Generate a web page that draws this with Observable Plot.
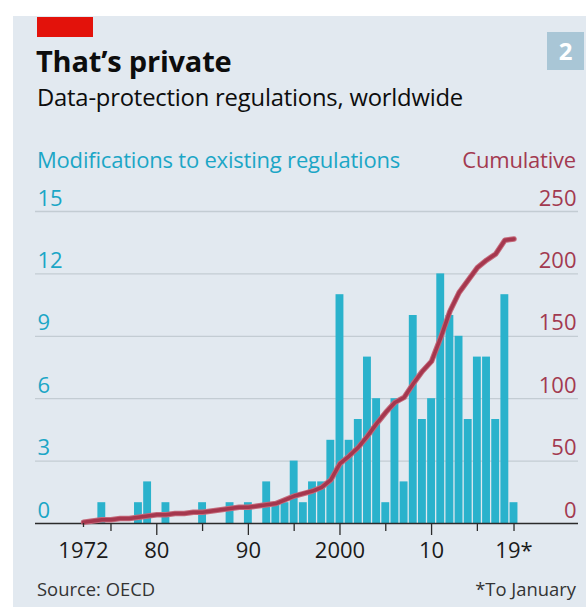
<!DOCTYPE html>
<html>
<head>
<meta charset="utf-8">
<script src="https://cdn.jsdelivr.net/npm/d3@7"></script>
<script src="https://cdn.jsdelivr.net/npm/@observablehq/plot@0.6"></script>
<style>
  html, body { margin: 0; padding: 0; background: #ffffff; }
  #page { position: relative; width: 586px; height: 607px; overflow: hidden; font-family: "Open Sans", sans-serif; }
  #panel { position: absolute; left: 13px; top: 16px; width: 573px; height: 591px; background: #e2e9f0; }
  .abs { position: absolute; line-height: 1; white-space: nowrap; }
  #redbar { left: 37px; top: 17px; width: 56px; height: 20px; background: #e3120b; }
  #title { left: 36px; top: 46px; font-size: 29px; font-weight: 700; color: #0d0d0d; letter-spacing: -0.2px; }
  #subtitle { left: 37px; top: 86px; font-size: 23.8px; color: #0d0d0d; letter-spacing: -0.2px; }
  #num { left: 547px; top: 32px; width: 37px; height: 38px; background: #a9c6d6; color: #fff; font-size: 24px; font-weight: 700; text-align: center; line-height: 38px; }
  #ltitle { left: 37px; top: 148px; font-size: 22px; color: #1ba6c6; letter-spacing: -0.2px; }
  #rtitle { right: 10px; top: 148px; font-size: 22px; color: #a23a50; letter-spacing: -0.2px; }
  #chart { position: absolute; left: 0; top: 180px; }
  #source { left: 37px; top: 580px; font-size: 18.4px; color: #333; }
  #note { right: 10px; top: 580px; font-size: 18.4px; color: #333; }
</style>
</head>
<body>
<div id="page">
  <div id="panel"></div>
  <div class="abs" id="redbar"></div>
  <div class="abs" id="title">That’s private</div>
  <div class="abs" id="subtitle">Data-protection regulations, worldwide</div>
  <div class="abs" id="num">2</div>
  <div class="abs" id="ltitle">Modifications to existing regulations</div>
  <div class="abs" id="rtitle">Cumulative</div>
  <div id="chart"></div>
  <div class="abs" id="source">Source: OECD</div>
  <div class="abs" id="note">*To January</div>
</div>
<script>
// ---- data ----
const years = d3.range(1972, 2020);
const modifications = [
  0, 0, 1, 0, 0, 0, 1, 2, 0, 1,   // 1972-1981
  0, 0, 0, 1, 0, 0, 1, 0, 1, 0,   // 1982-1991
  2, 1, 1, 3, 1, 2, 2, 4, 11, 4,  // 1992-2001
  5, 8, 6, 1, 6, 2, 10, 5, 6, 12, // 2002-2011
  10, 9, 5, 8, 8, 5, 11, 1        // 2012-2019
];
const cumulative = [
  1, 2, 3, 3, 4, 4, 5, 6, 7, 7,        // 1972-1981
  8, 8, 9, 9, 10, 11, 12, 13, 13, 14,  // 1982-1991
  15, 16, 19, 22, 24, 26, 29, 35, 48, 54, // 1992-2001
  61, 70, 80, 89, 97, 101, 112, 122, 130, 149, // 2002-2011
  170, 185, 195, 205, 211, 216, 227, 228 // 2012-2019
];
const leftTicks = [0, 3, 6, 9, 12, 15];
const rightTicks = [0, 50, 100, 150, 200, 250];
const majorYearTicks = [1980, 1990, 2000, 2010];
const majorYearLabels = ["80", "90", "2000", "10"];
const minorYearTicks = [1975, 1985, 1995, 2005, 2015];
const firstYear = 1972, firstYearLabel = "1972";
const lastYear = 2019, lastYearLabel = "19*";

const rows = years.map((y, i) => ({year: y, mod: modifications[i], cum: cumulative[i]}));
const ratio = 15 / 250; // right axis (cumulative) mapped onto left axis

const cyan = "#2ab2cc";
const maroon = "#a5374e";
const grid = "#c3ccd3";
const fs = 22;

const chart = Plot.plot({
  width: 586,
  height: 400,
  marginTop: 31,
  marginBottom: 57,
  marginLeft: 35,
  marginRight: 8,
  style: {fontFamily: "'Open Sans', sans-serif", background: "transparent", overflow: "visible"},
  x: {domain: [1966.76, 2026.04]},
  y: {domain: [0, 15], axis: null},
  marks: [
    Plot.ruleY(leftTicks.slice(1), {stroke: grid, strokeWidth: 1.3}),
    Plot.rectY(rows.filter(d => d.mod > 0), {
      x1: d => d.year - 0.43, x2: d => d.year + 0.43, y: "mod", fill: cyan
    }),
    Plot.ruleY([0], {stroke: "#2b2b2b", strokeWidth: 1.5}),
    Plot.line(rows, {x: "year", y: d => d.cum * ratio, stroke: "#c46a7b", strokeWidth: 5.5, strokeLinejoin: "round", strokeLinecap: "round"}),
    Plot.line(rows, {x: "year", y: d => d.cum * ratio, stroke: maroon, strokeWidth: 3.5, strokeLinejoin: "round", strokeLinecap: "round"}),
    // y labels, left (modifications) and right (cumulative)
    Plot.text(leftTicks, {y: d => d, text: d => String(d), frameAnchor: "left", textAnchor: "start", lineAnchor: "bottom", dx: 2, dy: -6, fill: "#1ba6c6", fontSize: fs}),
    Plot.text(rightTicks, {y: d => d * ratio, text: d => String(d), frameAnchor: "right", textAnchor: "end", lineAnchor: "bottom", dx: -2, dy: -6, fill: "#a23a50", fontSize: fs}),
    // x axis ticks & labels
    Plot.axisX({ticks: majorYearTicks, tickSize: 12, tickPadding: 7, label: null, tickFormat: d => majorYearLabels[majorYearTicks.indexOf(d)], stroke: "#2b2b2b", strokeWidth: 1.3, fill: "#1a1a1a", fontSize: fs}),
    Plot.axisX({ticks: minorYearTicks, tickSize: 8, tickPadding: 11, label: null, tickFormat: () => "", stroke: "#2b2b2b", strokeWidth: 1.3}),
    Plot.axisX({ticks: [firstYear], tickSize: 4, tickPadding: 15, label: null, tickFormat: () => firstYearLabel, stroke: "#2b2b2b", strokeWidth: 1.3, fill: "#1a1a1a", fontSize: fs}),
    Plot.axisX({ticks: [lastYear], tickSize: 8, tickPadding: 11, label: null, tickFormat: () => lastYearLabel, stroke: "#2b2b2b", strokeWidth: 1.3, fill: "#1a1a1a", fontSize: fs})
  ]
});
document.getElementById("chart").appendChild(chart);
</script>
</body>
</html>
